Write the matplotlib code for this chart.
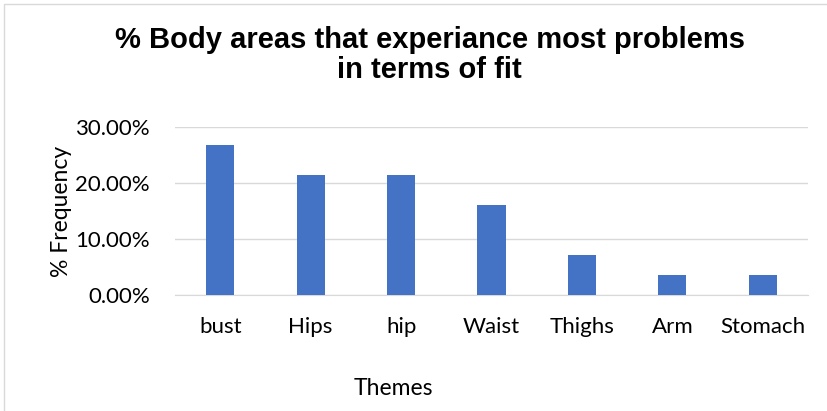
import matplotlib.pyplot as plt
from matplotlib.ticker import PercentFormatter
from matplotlib.patches import Rectangle

# Datos de la grafica
categorias = ['bust', 'Hips', 'hip', 'Waist', 'Thighs', 'Arm', 'Stomach']
frecuencia = [0.2679, 0.2143, 0.2143, 0.1607, 0.0714, 0.0357, 0.0357]

plt.rcParams['font.family'] = ['Lato', 'DejaVu Sans']

fig = plt.figure(figsize=(8.28, 4.11), dpi=100)
ax = fig.add_axes([175 / 828, 1 - 295 / 411, 633 / 828, 168 / 411])

# Barras
ax.bar(range(len(categorias)), frecuencia, width=0.31, color='#4472c4', zorder=3)

ax.set_xlim(-0.5, len(categorias) - 0.5)
ax.set_ylim(0, 0.30)
ax.set_yticks([0, 0.1, 0.2, 0.3])
ax.yaxis.set_major_formatter(PercentFormatter(1.0, decimals=2))
ax.set_xticks(range(len(categorias)))
ax.set_xticklabels(categorias)
ax.grid(axis='y', color='#d9d9d9', linewidth=1, zorder=0)
for s in ['top', 'right', 'left']:
    ax.spines[s].set_visible(False)
ax.spines['bottom'].set_color('#d9d9d9')
ax.tick_params(length=0, labelsize=16, colors='#000000')
ax.tick_params(axis='x', pad=16)
ax.tick_params(axis='y', pad=18)

# Titulo y etiquetas
fig.text(0.519, 1 - 55 / 411, '% Body areas that experiance most problems\nin terms of fit',
         ha='center', va='center', fontsize=21, fontweight='bold',
         family=['Liberation Sans', 'DejaVu Sans'], linespacing=1.05)
fig.text(62 / 828, 1 - 211 / 411, '% Frequency', rotation=90, ha='center', va='center', fontsize=16.5)
fig.text(393 / 828, 1 - 388 / 411, 'Themes', ha='center', va='center', fontsize=16.5)

# Marco del area del grafico
fig.patches.append(Rectangle((4 / 828, -0.05), 1, 1 - 4 / 411 + 0.05, transform=fig.transFigure,
                             fill=False, edgecolor='#d9d9d9', linewidth=1))

fig.savefig('out.png', dpi=100)
